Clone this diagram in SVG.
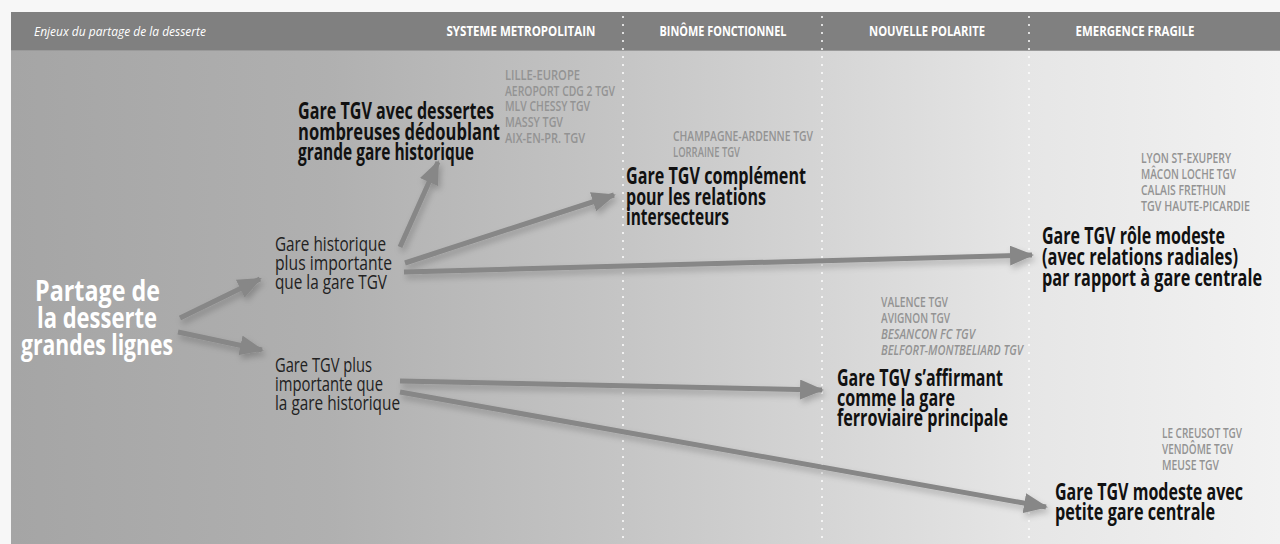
<svg xmlns="http://www.w3.org/2000/svg" width="1280" height="544" viewBox="0 0 1280 544">
<defs>
<linearGradient id="bodyGrad" x1="11" y1="0" x2="1280" y2="0" gradientUnits="userSpaceOnUse">
<stop offset="0" stop-color="#a5a5a5"/>
<stop offset="0.25" stop-color="#b0b0b0"/>
<stop offset="0.48" stop-color="#c5c5c5"/>
<stop offset="0.64" stop-color="#d5d5d5"/>
<stop offset="0.80" stop-color="#e6e6e6"/>
<stop offset="1" stop-color="#f2f2f2"/>
</linearGradient>
<marker id="head" markerUnits="userSpaceOnUse" markerWidth="26" markerHeight="20" refX="22" refY="10" orient="auto">
<path d="M0,0 L24,10 L0,20 z" fill="#878787"/>
</marker>
<filter id="shadow" x="-10%" y="-50%" width="120%" height="200%">
<feDropShadow dx="2" dy="4" stdDeviation="3" flood-color="#000" flood-opacity="0.22"/>
</filter>
<style>
.hdr{font-family:"Open Sans","Liberation Sans",sans-serif;font-weight:bold;font-size:14px;fill:#ffffff;text-anchor:middle}
.hdri{font-family:"Open Sans","Liberation Sans",sans-serif;font-style:italic;font-size:13.5px;fill:#ffffff}
.title{font-family:"Open Sans","Liberation Sans",sans-serif;font-weight:bold;font-size:28px;fill:#ffffff}
.mid{font-family:"Open Sans","Liberation Sans",sans-serif;font-size:20px;fill:#222222}
.bold{font-family:"Open Sans","Liberation Sans",sans-serif;font-weight:bold;font-size:22.5px;fill:#111111}
.list{font-family:"Open Sans","Liberation Sans",sans-serif;font-weight:600;font-size:15px;fill:#939393}
.it{font-style:italic}
.div{stroke:#ffffff;stroke-width:2;stroke-dasharray:2 6;opacity:0.75}
.arr{stroke:#878787;stroke-width:5;fill:none;marker-end:url(#head)}
</style>
</defs>
<rect x="0" y="0" width="1280" height="544" fill="#f7f7f7"/>
<rect x="11" y="12" width="1269" height="532" fill="url(#bodyGrad)"/>
<rect x="11" y="12" width="1269" height="38" fill="#808080"/>
<line x1="11" y1="50.5" x2="1280" y2="50.5" stroke="#9a9a9a" stroke-width="1"/>

<g id="dividers">
<line class="div" x1="623" y1="16" x2="623" y2="544"/>
<line class="div" x1="822" y1="16" x2="822" y2="544"/>
<line class="div" x1="1029" y1="16" x2="1029" y2="544"/>
</g>

<g id="header">
<text class="hdri" x="34" y="36" textLength="172" lengthAdjust="spacingAndGlyphs">Enjeux du partage de la desserte</text>
<text class="hdr" x="521" y="36" textLength="149" lengthAdjust="spacingAndGlyphs">SYSTEME METROPOLITAIN</text>
<text class="hdr" x="723" y="36" textLength="127" lengthAdjust="spacingAndGlyphs">BINÔME FONCTIONNEL</text>
<text class="hdr" x="927" y="36" textLength="116" lengthAdjust="spacingAndGlyphs">NOUVELLE POLARITE</text>
<text class="hdr" x="1135" y="36" textLength="119" lengthAdjust="spacingAndGlyphs">EMERGENCE FRAGILE</text>
</g>

<g id="connectors" filter="url(#shadow)">
<line class="arr" x1="180" y1="318" x2="260" y2="279"/>
<line class="arr" x1="178" y1="332" x2="262" y2="350"/>
<line class="arr" x1="400" y1="247" x2="438" y2="162"/>
<line class="arr" x1="405" y1="263" x2="614" y2="195"/>
<line class="arr" x1="404" y1="272" x2="1032" y2="255"/>
<line class="arr" x1="400" y1="381" x2="822" y2="390"/>
<line class="arr" x1="400" y1="392" x2="1046" y2="507"/>
</g>

<g id="node-partage">
<text class="title" x="35" y="301" textLength="125" lengthAdjust="spacingAndGlyphs">Partage de</text>
<text class="title" x="37" y="328" textLength="120" lengthAdjust="spacingAndGlyphs">la desserte</text>
<text class="title" x="21" y="355" textLength="152" lengthAdjust="spacingAndGlyphs">grandes lignes</text>
</g>

<g id="node-historique">
<text class="mid" x="275" y="251" textLength="111" lengthAdjust="spacingAndGlyphs">Gare historique</text>
<text class="mid" x="275" y="270" textLength="117" lengthAdjust="spacingAndGlyphs">plus importante</text>
<text class="mid" x="275" y="289" textLength="112" lengthAdjust="spacingAndGlyphs">que la gare TGV</text>
</g>

<g id="node-tgv">
<text class="mid" x="275" y="372" textLength="97" lengthAdjust="spacingAndGlyphs">Gare TGV plus</text>
<text class="mid" x="275" y="391" textLength="108" lengthAdjust="spacingAndGlyphs">importante que</text>
<text class="mid" x="275" y="410" textLength="125" lengthAdjust="spacingAndGlyphs">la gare historique</text>
</g>

<g id="node-metropolitain">
<text class="bold" x="298" y="119" textLength="196" lengthAdjust="spacingAndGlyphs">Gare TGV avec dessertes</text>
<text class="bold" x="298" y="140" textLength="202" lengthAdjust="spacingAndGlyphs">nombreuses dédoublant</text>
<text class="bold" x="298" y="160" textLength="176" lengthAdjust="spacingAndGlyphs">grande gare historique</text>
<text class="list" x="505" y="80" textLength="75" lengthAdjust="spacingAndGlyphs">LILLE-EUROPE</text>
<text class="list" x="505" y="96" textLength="110" lengthAdjust="spacingAndGlyphs">AEROPORT CDG 2 TGV</text>
<text class="list" x="505" y="111" textLength="85" lengthAdjust="spacingAndGlyphs">MLV CHESSY TGV</text>
<text class="list" x="505" y="127" textLength="58" lengthAdjust="spacingAndGlyphs">MASSY TGV</text>
<text class="list" x="505" y="143" textLength="80" lengthAdjust="spacingAndGlyphs">AIX-EN-PR. TGV</text>
</g>

<g id="node-binome">
<text class="list" x="673" y="141" textLength="140" lengthAdjust="spacingAndGlyphs">CHAMPAGNE-ARDENNE TGV</text>
<text class="list" x="673" y="157" textLength="67" lengthAdjust="spacingAndGlyphs">LORRAINE TGV</text>
<text class="bold" x="626" y="184" textLength="180" lengthAdjust="spacingAndGlyphs">Gare TGV complément</text>
<text class="bold" x="626" y="205" textLength="140" lengthAdjust="spacingAndGlyphs">pour les relations</text>
<text class="bold" x="626" y="225" textLength="103" lengthAdjust="spacingAndGlyphs">intersecteurs</text>
</g>

<g id="node-radiales">
<text class="list" x="1141" y="163" textLength="90" lengthAdjust="spacingAndGlyphs">LYON ST-EXUPERY</text>
<text class="list" x="1141" y="179" textLength="95" lengthAdjust="spacingAndGlyphs">MÂCON LOCHE TGV</text>
<text class="list" x="1141" y="195" textLength="85" lengthAdjust="spacingAndGlyphs">CALAIS FRETHUN</text>
<text class="list" x="1141" y="211" textLength="109" lengthAdjust="spacingAndGlyphs">TGV HAUTE-PICARDIE</text>
<text class="bold" x="1042" y="244" textLength="183" lengthAdjust="spacingAndGlyphs">Gare TGV rôle modeste</text>
<text class="bold" x="1042" y="265" textLength="196" lengthAdjust="spacingAndGlyphs">(avec relations radiales)</text>
<text class="bold" x="1042" y="286" textLength="220" lengthAdjust="spacingAndGlyphs">par rapport à gare centrale</text>
</g>

<g id="node-polarite">
<text class="list" x="881" y="307" textLength="67" lengthAdjust="spacingAndGlyphs">VALENCE TGV</text>
<text class="list" x="881" y="323" textLength="69" lengthAdjust="spacingAndGlyphs">AVIGNON TGV</text>
<text class="list it" x="881" y="339" textLength="94" lengthAdjust="spacingAndGlyphs">BESANCON FC TGV</text>
<text class="list it" x="881" y="355" textLength="142" lengthAdjust="spacingAndGlyphs">BELFORT-MONTBELIARD TGV</text>
<text class="bold" x="837" y="386" textLength="166" lengthAdjust="spacingAndGlyphs">Gare TGV s’affirmant</text>
<text class="bold" x="837" y="406" textLength="118" lengthAdjust="spacingAndGlyphs">comme la gare</text>
<text class="bold" x="837" y="426" textLength="171" lengthAdjust="spacingAndGlyphs">ferroviaire principale</text>
</g>

<g id="node-petite">
<text class="list" x="1162" y="438" textLength="80" lengthAdjust="spacingAndGlyphs">LE CREUSOT TGV</text>
<text class="list" x="1162" y="454" textLength="71" lengthAdjust="spacingAndGlyphs">VENDÔME TGV</text>
<text class="list" x="1162" y="470" textLength="57" lengthAdjust="spacingAndGlyphs">MEUSE TGV</text>
<text class="bold" x="1055" y="500" textLength="188" lengthAdjust="spacingAndGlyphs">Gare TGV modeste avec</text>
<text class="bold" x="1055" y="520" textLength="160" lengthAdjust="spacingAndGlyphs">petite gare centrale</text>
</g>
</svg>
